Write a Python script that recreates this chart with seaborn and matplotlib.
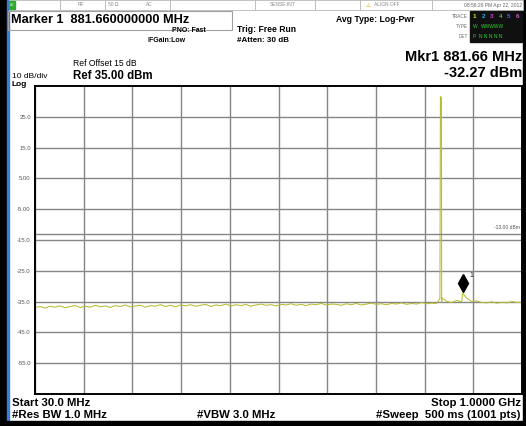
import numpy as np
import pandas as pd
import matplotlib
matplotlib.use("Agg")
import matplotlib.pyplot as plt
import matplotlib.transforms as mtransforms
from matplotlib.patches import Rectangle
import seaborn as sns

# spectrum trace: noise floor read every 10 MHz, 30 MHz .. 1000 MHz
noise_lvl = [
    -36.9, -36.6, -37.1, -36.5, -36.8, -36.4, -37.0, -36.6, -36.3, -36.9,
    -36.5, -36.8, -36.2, -36.7, -36.4, -36.9, -36.3, -36.6, -36.1, -36.7,
    -36.4, -36.2, -36.8, -36.3, -36.5, -36.0, -36.6, -36.2, -36.7, -36.1,
    -36.4, -36.0, -36.5, -36.2, -35.9, -36.6, -36.1, -36.3, -35.8, -36.4,
    -36.0, -36.3, -35.9, -36.5, -36.1, -35.8, -36.2, -36.0, -36.4, -35.9,
    -36.1, -35.7, -36.2, -35.9, -36.3, -35.8, -36.0, -35.6, -36.1, -35.8,
    -35.9, -36.2, -35.7, -36.0, -35.6, -36.1, -35.8, -35.5, -35.9, -35.7,
    -36.0, -35.6, -35.8, -35.4, -35.9, -35.6, -35.8, -35.3, -35.7, -35.5,
    -35.6, -35.2, -34.9, -35.3, -34.6, -35.1, -33.9, -35.0, -34.8, -35.3,
    -35.4, -35.1, -35.5, -35.2, -35.4, -35.0, -35.3, -35.2,
]
noise_freq = np.linspace(30, 1000, len(noise_lvl))

# carrier
peak_freq = [836.5, 837.5, 839.5, 840.5]
peak_lvl = [-34.0, 31.6, 31.2, -33.8]

# marker 1
mkr_freq = 881.66
mkr_lvl = -32.27

disp_line = -13.0
ref_level = 35.0
db_div = 10
ytick_vals = [25, 15, 5, -5, -15, -25, -35, -45, -55]
ytick_text = ["25.0", "15.0", "5.00", "-5.00", "-15.0", "-25.0", "-35.0", "-45.0", "-55.0"]

df = pd.DataFrame({
    "freq": list(noise_freq) + peak_freq + [mkr_freq],
    "level": noise_lvl + peak_lvl + [mkr_lvl],
}).sort_values("freq")

W, H = 526, 426
sns.set_style("white")
plt.rcParams["font.family"] = ["Liberation Sans", "DejaVu Sans"]

fig = plt.figure(figsize=(W / 100, H / 100), dpi=100)
fig.patch.set_facecolor("white")


def fx(x):
    return x / W


def fy(y):
    return 1 - y / H


def txt(x, y, s, size, bold=False, ha="left", color="black", va="center"):
    fig.text(fx(x), fy(y), s, fontsize=size, ha=ha, va=va, color=color,
             fontweight="bold" if bold else "normal")


def box(x0, y0, x1, y1, **kw):
    # rectangle given in image pixels (top-left origin)
    fig.patches.append(Rectangle((fx(x0), fy(y1)), (x1 - x0) / W, (y1 - y0) / H,
                                 transform=fig.transFigure, **kw))


ax = fig.add_axes([fx(35), fy(394), 487 / W, 308 / H])
sns.lineplot(data=df, x="freq", y="level", ax=ax, color="#b8bc30",
             linewidth=0.75, estimator=None, sort=True)

ax.set_xlim(30, 1000)
ax.set_ylim(ref_level - 10 * db_div, ref_level)
ax.set_xticks(np.linspace(30, 1000, 11))
ax.set_xticklabels([])
ax.set_yticks(ytick_vals)
ax.set_yticklabels(ytick_text, fontsize=4.3, color="#555555")
ax.tick_params(length=0, pad=3)
ax.grid(True, color="#858585", linewidth=1.0)
ax.set_xlabel("")
ax.set_ylabel("")
for sp in ax.spines.values():
    sp.set_color("black")
    sp.set_linewidth(1.4)

# display line
ax.axhline(disp_line, color="#858585", linewidth=1.0)
ax.text(0.995, disp_line + 1.2, "-13.00 dBm", transform=ax.get_yaxis_transform(),
        ha="right", va="bottom", fontsize=3.6, color="#555555")

# marker diamond, drawn just above the marker point
off = mtransforms.offset_copy(ax.transData, fig=fig, x=0, y=7, units="points")
ax.plot([mkr_freq], [mkr_lvl], marker="d", markersize=9, color="black",
        transform=off, clip_on=False)
off2 = mtransforms.offset_copy(ax.transData, fig=fig, x=6, y=13, units="points")
ax.text(mkr_freq, mkr_lvl, "1", transform=off2, fontsize=5, ha="center", va="center")

# instrument frame
box(0, 0, 7, H, color="black", zorder=0)
box(7, 0, 9, H, color="#3a7be0", zorder=0)
box(523, 0, W, H, color="black", zorder=0)
box(0, 421, W, H, color="black", zorder=0)

# status bar
for x0, x1 in [(9, 60), (60, 105), (105, 170), (170, 255), (255, 315),
               (315, 360), (360, 432), (432, 523)]:
    box(x0, 0, x1, 10, facecolor="white", edgecolor="#b8b8b8", linewidth=0.6)
box(9, 1, 15, 9, color="#2ea82e")
txt(9.5, 5, "LXI", 2.2, color="white")
txt(78, 5, "RF", 3.5, color="#888888")
txt(108, 5, "50 \u03a9", 3.5, color="#888888")
txt(146, 5, "AC", 3.5, color="#888888")
txt(270, 5, "SENSE:INT", 3.5, color="#888888")
txt(366, 5, "\u26a0", 4, color="#d8a000")
txt(374, 5, "ALIGN OFF", 3.5, color="#888888")
txt(522, 5, "08:56:26 PM Apr 22, 2012", 3.6, ha="right", color="#666666")

# marker readout box
box(8, 11, 232, 30, facecolor="none", edgecolor="#a0a0a0", linewidth=0.8)
txt(11, 20, "Marker 1  881.660000000 MHz", 9.2, bold=True)
txt(172, 30, "PNO: Fast", 5.0, bold=True)
txt(148, 41, "IFGain:Low", 5.0, bold=True)
txt(237, 30, "Trig: Free Run", 6.2, bold=True)
txt(237, 41, "#Atten: 30 dB", 5.8, bold=True)
txt(336, 20, "Avg Type: Log-Pwr", 6.2, bold=True)

# trace panel
txt(468, 16, "TRACE", 3.3, ha="right", color="#666666")
txt(468, 27, "TYPE", 3.3, ha="right", color="#666666")
txt(468, 37, "DET", 3.3, ha="right", color="#666666")
box(470, 11, 522, 42, color="#101010")
for i, c in enumerate(["#e0e020", "#28b0f0", "#d040d0", "#30d030", "#5060ff", "#c060c0"]):
    txt(473 + i * 8.5, 16, str(i + 1), 4.5, bold=True, color=c)
txt(473, 27, "W", 3.5, color="#30d030")
txt(481, 27, "WWWWW", 3.5, color="#30d030")
txt(473, 37, "P  N N N N N", 3.6, color="#30d030")

txt(522, 57, "Mkr1 881.66 MHz", 10.5, bold=True, ha="right")
txt(522, 73, "-32.27 dBm", 10.5, bold=True, ha="right")

txt(73, 64, "Ref Offset 15 dB", 6.2)
txt(73, 76, "Ref 35.00 dBm", 8.3, bold=True)
txt(12, 77, "10 dB/div", 6.0)
txt(12, 85, "Log", 6.0, bold=True)

txt(12, 403, "Start 30.0 MHz", 8.2, bold=True)
txt(12, 415, "#Res BW 1.0 MHz", 8.2, bold=True)
txt(197, 415, "#VBW 3.0 MHz", 8.2, bold=True)
txt(521, 403, "Stop 1.0000 GHz", 8.2, bold=True, ha="right")
txt(521, 415, "#Sweep  500 ms (1001 pts)", 8.2, bold=True, ha="right")

fig.savefig("out.png", dpi=100)
